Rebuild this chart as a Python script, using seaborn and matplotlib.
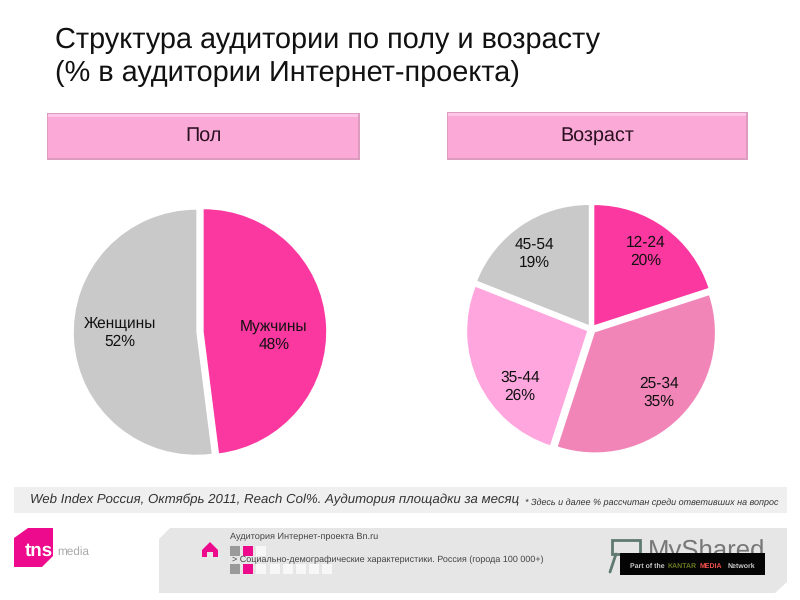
#!/usr/bin/env python3
import matplotlib

matplotlib.use("Agg")
import matplotlib.pyplot as plt
from matplotlib.patches import Polygon, Rectangle
import seaborn as sns

gender_labels = ["Мужчины", "Женщины"]
gender_values = [48, 52]
gender_colors = ["#fb37a0", "#c9c9c9"]

age_labels = ["12-24", "25-34", "35-44", "45-54"]
age_values = [20, 35, 26, 19]
age_colors = ["#fb37a0", "#f285b8", "#ffa6df", "#c9c9c9"]

W, H = 800, 600

sns.set_theme(style="white")
plt.rcParams["font.family"] = ["Liberation Sans", "DejaVu Sans"]
plt.rcParams["text.hinting"] = "none"

fig = plt.figure(figsize=(W / 100, H / 100), dpi=100, facecolor="white")
bg = fig.add_axes([0, 0, 1, 1])
bg.set_xlim(0, W)
bg.set_ylim(H, 0)
bg.axis("off")


def box(x0, y0, x1, y1, color, zorder=1):
    bg.add_patch(Rectangle((x0, y0), x1 - x0, y1 - y0, fc=color, ec="none", zorder=zorder))


def header(x0, y0, x1, y1, label):
    box(x0, y0, x1, y1, "#dc9cc0")
    box(x0 + 1, y0 + 1, x1 - 2, y1 - 2, "#fbaad7", 2)
    box(x0 + 1, y0 + 1, x1 - 2, y0 + 4, "#fdc6e8", 3)
    bg.text((x0 + x1) / 2, (y0 + y1) / 2 - 0.5, label, ha="center", va="center",
            fontsize=14.2, color="#2a1020", zorder=4)


def pie(cx, cy, r, values, colors, explode, startangle=90):
    # axes is sized so that one data unit equals the pie radius
    pad = 1.2
    ax = fig.add_axes([(cx - r * pad) / W, 1 - (cy + r * pad) / H, 2 * r * pad / W, 2 * r * pad / H])
    ax.pie(values, colors=colors, startangle=startangle, counterclock=False, explode=explode,
           radius=1, wedgeprops={"linewidth": 0})
    ax.set_xlim(-pad, pad)
    ax.set_ylim(-pad, pad)
    ax.axis("off")
    return ax


# title
bg.text(55, 40, "Структура аудитории по полу и возрасту", fontsize=20.82, color="#111111", va="center")
bg.text(55, 73, "(% в аудитории Интернет-проекта)", fontsize=20.82, color="#111111", va="center")

header(47, 113, 360, 160, "Пол")
header(447, 112, 748, 160, "Возраст")

pie(200, 332, 122.5, gender_values, gender_colors, [0.03, 0.03])
pie(591.5, 329, 120, age_values, age_colors, [0.04, 0.04, 0.04, 0.04])

gender_pos = [(274, 335.5), (120, 332.5)]
for label, value, (x, y) in zip(gender_labels, gender_values, gender_pos):
    bg.text(x, y, f"{label}\n{value}%", ha="center", va="center", fontsize=11.2,
            color="#111111", linespacing=1.3, zorder=6)

age_pos = [(646, 252), (659, 393), (520, 387), (534, 254)]
for label, value, (x, y) in zip(age_labels, age_values, age_pos):
    bg.text(x, y, f"{label}\n{value}%", ha="center", va="center", fontsize=11.2,
            color="#111111", linespacing=1.3, zorder=6)
bg.set_zorder(5)
bg.patch.set_visible(False)

# footer strip
box(14, 487, 787, 513, "#efefef")
bg.text(30, 499.5, "Web Index Россия, Октябрь 2011, Reach Col%. Аудитория площадки за месяц",
        fontsize=9.58, style="italic", color="#333333", va="center")
bg.text(525, 503, "* Здесь и далее % рассчитан среди ответивших на вопрос",
        fontsize=6.5, style="italic", color="#333333", va="center")

# lower panel
bg.add_patch(Polygon([(170, 528), (787, 528), (787, 582), (775, 593), (159, 593), (159, 539)],
                     fc="#e6e6e6", ec="none", zorder=1))
bg.text(230, 537, "Аудитория Интернет-проекта Bn.ru", fontsize=6.6, color="#444444", va="center")
bg.text(232, 560, "> Социально-демографические характеристики. Россия (города 100 000+)",
        fontsize=6.48, color="#444444", va="center", zorder=3)

for x0, color in zip([230, 243, 256], ["#9a9a9a", "#ee0a8c", "#f7f7f7"]):
    box(x0, 546, x0 + 10, 556, color)
row_colors = ["#9a9a9a", "#ee0a8c"] + ["#f7f7f7"] * 6
for i, color in enumerate(row_colors):
    box(230 + i * 13.2, 564, 240 + i * 13.2, 574, color)

# home icon
bg.add_patch(Polygon([(210, 542), (218, 550), (218, 557), (213, 557), (213, 552), (207, 552), (207, 557),
                      (202, 557), (202, 550)], fc="#ee0a8c", ec="none", zorder=2))

# tns logo
bg.add_patch(Polygon([(28, 528), (53, 528), (53, 556), (42, 567), (14, 567), (14, 538)],
                     fc="#ee0a8c", ec="none", zorder=2))
bg.text(25, 551, "tns", fontsize=13.5, weight="bold", color="white", va="center", zorder=3)
bg.text(57, 552, "media", fontsize=8.5, color="#aaaaaa", va="center", zorder=3)

# watermark and black network tag
bg.text(648, 552, "MyShared", fontsize=18.5, color="#777777", va="center", zorder=2)
bg.add_patch(Rectangle((612, 540), 28, 14, fc="none", ec="#5f7a70", lw=2, zorder=2))
bg.plot([616, 610], [554, 572], color="#5f7a70", lw=2, zorder=2)
box(620, 553, 765, 575, "#050505", 3)
bg.text(630, 566, "Part of the", fontsize=5, weight="bold", color="#cccccc", va="center", zorder=4)
bg.text(668, 566, "KANTAR", fontsize=5, weight="bold", color="#6a7a20", va="center", zorder=4)
bg.text(700, 566, "MEDIA", fontsize=5, weight="bold", color="#f0504a", va="center", zorder=4)
bg.text(728, 566, "Network", fontsize=5, weight="bold", color="#cccccc", va="center", zorder=4)

fig.savefig("out.png", dpi=100)
plt.close(fig)
